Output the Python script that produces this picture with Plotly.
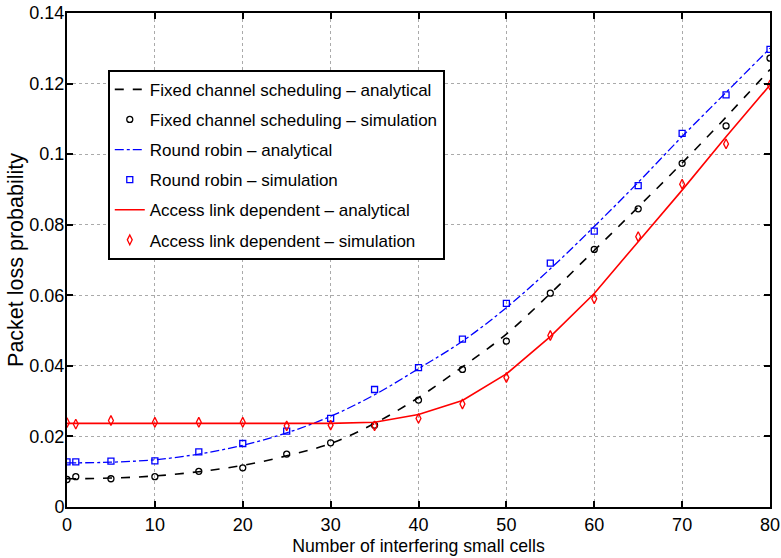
import plotly.graph_objects as go

# Simulation points
x_sim = [0, 1, 5, 10, 15, 20, 25, 30, 35, 40, 45, 50, 55, 60, 65, 70, 75, 80]
fixed_sim = [0.0078, 0.0086, 0.0080, 0.0086, 0.0101, 0.0111, 0.0150, 0.0182, 0.0232, 0.0303,
             0.0390, 0.0470, 0.0606, 0.0730, 0.0845, 0.0974, 0.1080, 0.1272]
rr_sim = [0.0128, 0.0128, 0.0130, 0.0131, 0.0156, 0.0180, 0.0215, 0.0251, 0.0333, 0.0395,
          0.0476, 0.0577, 0.0691, 0.0782, 0.0911, 0.1059, 0.1168, 0.1297]
ald_sim = [0.0239, 0.0235, 0.0245, 0.0240, 0.0240, 0.0240, 0.0230, 0.0232, 0.0230, 0.0251,
           0.0292, 0.0367, 0.0486, 0.0590, 0.0766, 0.0915, 0.1029, 0.1196]

# Analytical curves
x_ana = [0, 5, 10, 15, 20, 25, 30, 35, 40, 45, 50, 55, 60, 65, 70, 75, 80]
fixed_ana = [0.0080, 0.0082, 0.0088, 0.0100, 0.0118, 0.0145, 0.0180, 0.0237, 0.0310, 0.0397,
             0.0490, 0.0605, 0.0727, 0.0850, 0.0975, 0.1105, 0.1240]
rr_ana = [0.0125, 0.0127, 0.0134, 0.0150, 0.0175, 0.0210, 0.0257, 0.0318, 0.0392, 0.0470,
          0.0565, 0.0675, 0.0795, 0.0920, 0.1050, 0.1175, 0.1300]
ald_ana = [0.0237, 0.0237, 0.0237, 0.0237, 0.0237, 0.0237, 0.0237, 0.0240, 0.0262, 0.0302,
           0.0377, 0.0483, 0.0605, 0.0752, 0.0898, 0.1049, 0.1196]

x_ticks = [0, 10, 20, 30, 40, 50, 60, 70, 80]
y_ticks = [0, 0.02, 0.04, 0.06, 0.08, 0.10, 0.12, 0.14]
y_tick_labels = ["0", "0.02", "0.04", "0.06", "0.08", "0.1", "0.12", "0.14"]

names = [
    "Fixed channel scheduling \u2013 analytical",
    "Fixed channel scheduling \u2013 simulation",
    "Round robin \u2013 analytical",
    "Round robin \u2013 simulation",
    "Access link dependent \u2013 analytical",
    "Access link dependent \u2013 simulation",
]

FONT = "Liberation Sans, Arial, sans-serif"

fig = go.Figure()
fig.add_trace(go.Scatter(x=x_ana, y=fixed_ana, mode="lines", name=names[0], legendgroup="g1",
                         line=dict(color="black", dash="dash", width=1.6, shape="spline")))
fig.add_trace(go.Scatter(x=x_sim, y=fixed_sim, mode="markers", name=names[1], legendgroup="g2",
                         marker=dict(symbol="circle-open", size=6, color="black",
                                     line=dict(width=1.3, color="black"))))
fig.add_trace(go.Scatter(x=x_ana, y=rr_ana, mode="lines", name=names[2], legendgroup="g3",
                         line=dict(color="blue", dash="dashdot", width=1.3, shape="spline")))
fig.add_trace(go.Scatter(x=x_sim, y=rr_sim, mode="markers", name=names[3], legendgroup="g4",
                         marker=dict(symbol="square-open", size=6, color="blue",
                                     line=dict(width=1.3, color="blue"))))
fig.add_trace(go.Scatter(x=x_ana, y=ald_ana, mode="lines", name=names[4], legendgroup="g5",
                         line=dict(color="red", width=1.6)))
fig.add_trace(go.Scatter(x=x_sim, y=ald_sim, mode="markers", name=names[5], legendgroup="g6",
                         marker=dict(symbol="diamond-tall-open", size=7, color="red",
                                     line=dict(width=1.3, color="red"))))

axis_common = dict(
    showline=True, linecolor="black", linewidth=2, mirror="ticks",
    ticks="inside", ticklen=6, tickwidth=1.5, tickcolor="black",
    showgrid=True, gridcolor="#aaaaaa", griddash="dot", gridwidth=1,
    zeroline=False, automargin=False,
    tickfont=dict(family=FONT, size=18, color="black"),
)

fig.update_xaxes(range=[0, 80], tickvals=x_ticks,
                 title=dict(text="Number of interfering small cells", standoff=6,
                            font=dict(family=FONT, size=17.7, color="black")),
                 **axis_common)
fig.update_yaxes(range=[0, 0.14], tickvals=y_ticks, ticktext=y_tick_labels,
                 ticklabelstandoff=-3,
                 title=dict(text="Packet loss probability", standoff=0,
                            font=dict(family=FONT, size=21.5, color="black")),
                 **axis_common)

fig.update_layout(
    width=781, height=558,
    margin=dict(l=67, r=11, t=13, b=51),
    paper_bgcolor="white", plot_bgcolor="white",
    font=dict(family=FONT, size=17, color="black"),
    legend=dict(x=0.058, y=0.885, xanchor="left", yanchor="top",
                bgcolor="white", bordercolor="black", borderwidth=2,
                font=dict(size=17), tracegroupgap=5, itemwidth=30),
    showlegend=True,
)

fig.write_html("out.html")
